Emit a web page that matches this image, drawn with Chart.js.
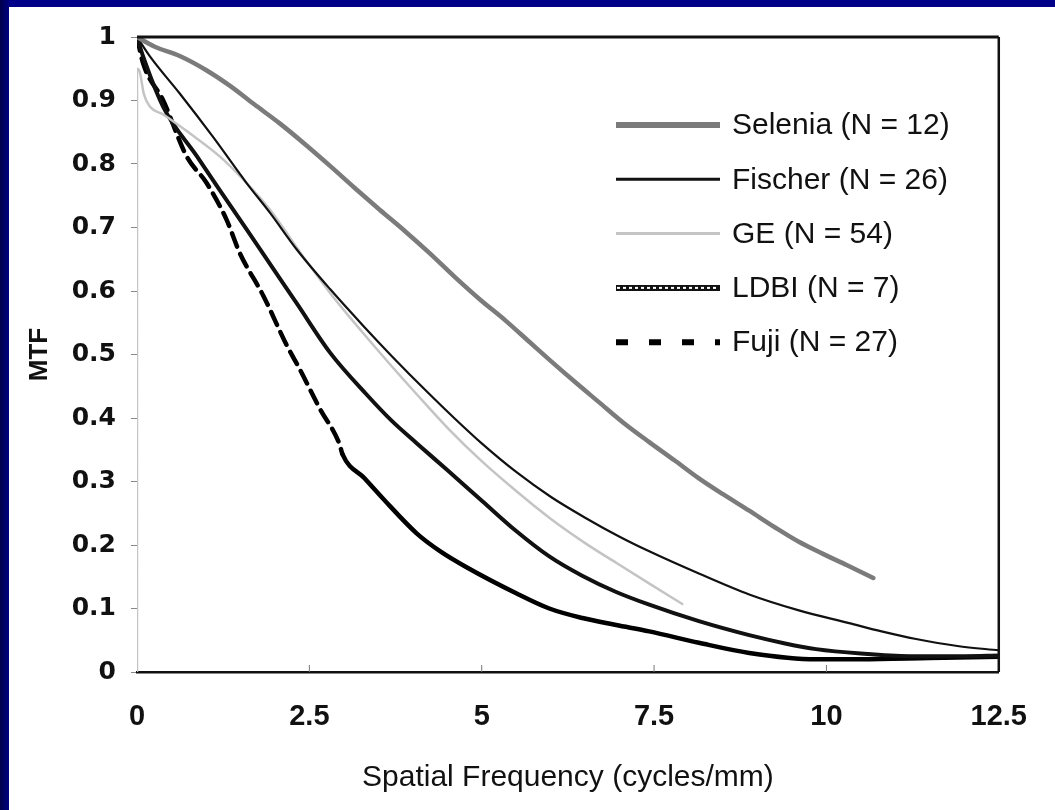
<!DOCTYPE html>
<html>
<head>
<meta charset="utf-8">
<script src="https://cdn.jsdelivr.net/npm/chart.js@4"></script>
<style>
  html, body { margin: 0; padding: 0; }
  body {
    width: 1055px; height: 810px; overflow: hidden; position: relative;
    background: linear-gradient(to right, #00004a 0px, #000088 10px);
  }
  #panel { position: absolute; left: 9px; top: 7px; width: 1046px; height: 803px; background: #fff; }
</style>
</head>
<body>
<div id="panel"><canvas id="mtfChart" width="1046" height="803"></canvas></div>
<script>
// tick labels
var xTicks = [0, 2.5, 5, 7.5, 10, 12.5];
var xTickLabels = ['0', '2.5', '5', '7.5', '10', '12.5'];
var yTicks = [0, 0.1, 0.2, 0.3, 0.4, 0.5, 0.6, 0.7, 0.8, 0.9, 1];
var yTickLabels = ['0', '0.1', '0.2', '0.3', '0.4', '0.5', '0.6', '0.7', '0.8', '0.9', '1'];

// series (spatial frequency in cycles/mm, MTF)
var seriesNames = ['Selenia (N = 12)', 'Fischer (N = 26)', 'GE (N = 54)', 'LDBI (N = 7)', 'Fuji (N = 27)'];

var seleniaFreq = [0, 0.25, 0.62, 1.0, 1.35, 1.7, 2.07, 2.45, 2.8, 3.15, 3.52, 3.9, 4.24, 4.6, 4.97, 5.35, 5.69, 6.0, 6.35, 6.7, 7.05, 7.43, 7.8, 8.15, 8.5, 8.88, 9.25, 9.6, 9.95, 10.3, 10.68];
var seleniaMtf  = [1, 0.985, 0.97, 0.948, 0.923, 0.894, 0.864, 0.83, 0.797, 0.763, 0.728, 0.693, 0.66, 0.623, 0.587, 0.553, 0.52, 0.49, 0.457, 0.425, 0.393, 0.362, 0.333, 0.305, 0.28, 0.254, 0.228, 0.205, 0.186, 0.168, 0.148];

var fischerFreq = [0, 0.19, 0.62, 1.1, 1.59, 1.93, 2.32, 2.8, 3.3, 3.7, 4.2, 4.6, 5.0, 5.5, 6.0, 6.5, 7.0, 7.43, 8.15, 8.88, 9.6, 10.33, 10.8, 11.3, 11.9, 12.5];
var fischerMtf  = [1, 0.969, 0.911, 0.843, 0.77, 0.723, 0.665, 0.603, 0.543, 0.497, 0.442, 0.4, 0.36, 0.315, 0.276, 0.243, 0.213, 0.19, 0.155, 0.122, 0.097, 0.077, 0.064, 0.052, 0.041, 0.034];

var geFreq = [0, 0, 0.04, 0.1, 0.19, 0.38, 0.77, 1.2, 1.59, 1.93, 2.32, 2.8, 3.27, 3.65, 4.06, 4.5, 5.0, 5.5, 5.98, 6.5, 6.95, 7.45, 7.91];
var geMtf  = [0, 0.95, 0.945, 0.91, 0.89, 0.878, 0.848, 0.812, 0.77, 0.728, 0.668, 0.597, 0.535, 0.487, 0.437, 0.385, 0.332, 0.285, 0.243, 0.203, 0.172, 0.138, 0.107];

var ldbiFreq = [0, 0.09, 0.38, 0.87, 1.2, 1.59, 1.97, 2.32, 2.8, 3.33, 3.7, 4.06, 4.5, 5.01, 5.5, 5.98, 6.45, 6.95, 7.43, 8.15, 8.88, 9.4, 9.85, 10.5, 11.2, 12.0, 12.5];
var ldbiMtf  = [1, 0.969, 0.89, 0.812, 0.759, 0.697, 0.636, 0.58, 0.503, 0.437, 0.395, 0.36, 0.318, 0.269, 0.222, 0.182, 0.152, 0.126, 0.106, 0.08, 0.058, 0.045, 0.036, 0.029, 0.025, 0.025, 0.026];

var fujiFreq = [0, 0.09, 0.38, 0.72, 1.01, 1.3, 1.49, 1.83, 2.17, 2.36, 2.65, 2.94, 2.98, 3.3, 3.56, 4.06, 4.4, 4.78, 5.5, 5.98, 6.46, 6.95, 7.43, 8.15, 8.88, 9.85, 10.5, 11.5, 12.5];
var fujiMtf  = [1, 0.958, 0.9, 0.812, 0.77, 0.712, 0.66, 0.593, 0.515, 0.477, 0.415, 0.358, 0.343, 0.305, 0.274, 0.218, 0.19, 0.165, 0.124, 0.1, 0.085, 0.074, 0.064, 0.046, 0.03, 0.02, 0.02, 0.022, 0.024];

function toPoints(xs, ys) {
  return xs.map(function (x, i) { return { x: x, y: ys[i] }; });
}

var FONT = '"Liberation Sans", Arial, sans-serif';

// legend drawn inside the plot area
var insideLegend = {
  id: 'insideLegend',
  afterDatasetsDraw: function (chart) {
    var ctx = chart.ctx;
    var area = chart.chartArea;
    var top = area.top + 88;
    var gap = 54.3;
    var x0 = 607, x1 = 711;
    var row = 0;
    chart.data.datasets.forEach(function (ds) {
      if (ds.overlay) return;
      var y = top + row * gap;
      ctx.save();
      ctx.lineCap = 'butt';
      ctx.strokeStyle = ds.borderColor;
      ctx.lineWidth = ds.legendWidth || ds.borderWidth;
      ctx.setLineDash(ds.legendDash || []);
      ctx.beginPath();
      ctx.moveTo(x0, y);
      ctx.lineTo(x1, y);
      ctx.stroke();
      if (ds.legendTexture) {
        ctx.strokeStyle = '#ffffff';
        ctx.lineWidth = 2;
        ctx.setLineDash([3, 3]);
        ctx.beginPath();
        ctx.moveTo(x0 + 1, y);
        ctx.lineTo(x1 - 1, y);
        ctx.stroke();
      }
      ctx.setLineDash([]);
      ctx.fillStyle = '#111';
      ctx.font = '30px ' + FONT;
      ctx.textBaseline = 'middle';
      ctx.textAlign = 'left';
      ctx.fillText(ds.label, x1 + 12, y + 1);
      ctx.restore();
      row++;
    });
  }
};

// top/right frame and small inner x ticks
var frame = {
  id: 'frame',
  afterDraw: function (chart) {
    var ctx = chart.ctx;
    var a = chart.chartArea;
    var xs = chart.scales.x;
    ctx.save();
    ctx.strokeStyle = '#111';
    ctx.lineWidth = 3;
    ctx.beginPath();
    ctx.moveTo(a.left, a.top);
    ctx.lineTo(a.right, a.top);
    ctx.stroke();
    ctx.lineWidth = 2.5;
    ctx.beginPath();
    ctx.moveTo(a.right, a.top);
    ctx.lineTo(a.right, a.bottom);
    ctx.stroke();
    ctx.strokeStyle = '#777';
    ctx.lineWidth = 1;
    xTicks.forEach(function (v) {
      if (v === 0 || v === 12.5) return;
      var px = xs.getPixelForValue(v);
      ctx.beginPath();
      ctx.moveTo(px, a.bottom);
      ctx.lineTo(px, a.bottom - 7);
      ctx.stroke();
    });
    ctx.restore();
  }
};

var mtfChart = new Chart(document.getElementById('mtfChart').getContext('2d'), {
  type: 'line',
  data: {
    datasets: [
      {
        label: seriesNames[0],
        data: toPoints(seleniaFreq, seleniaMtf),
        borderColor: '#7b7b7b',
        borderWidth: 4.5,
        legendWidth: 6
      },
      {
        label: seriesNames[1],
        data: toPoints(fischerFreq, fischerMtf),
        borderColor: '#111111',
        borderWidth: 2.2,
        legendWidth: 3
      },
      {
        label: seriesNames[2],
        data: toPoints(geFreq, geMtf),
        borderColor: '#c4c4c4',
        borderWidth: 2.5,
        legendWidth: 3
      },
      {
        label: seriesNames[3],
        data: toPoints(ldbiFreq, ldbiMtf),
        borderColor: '#111111',
        borderWidth: 4,
        legendWidth: 6,
        legendTexture: true
      },
      {
        label: 'LDBI texture',
        overlay: true,
        data: toPoints(ldbiFreq, ldbiMtf),
        borderColor: 'rgba(210,210,210,0.85)',
        borderWidth: 1,
        borderDash: [1.5, 4]
      },
      {
        label: seriesNames[4],
        data: toPoints(fujiFreq, fujiMtf),
        borderColor: '#000000',
        borderWidth: 4.5,
        legendWidth: 6,
        legendDash: [12, 21],
        segment: {
          borderDash: function (ctx) {
            return ctx.p0.parsed.y > 0.345 ? [14, 8] : undefined;
          }
        }
      }
    ]
  },
  options: {
    responsive: false,
    animation: false,
    layout: { padding: { left: 0, right: 54, top: 25, bottom: 0 } },
    elements: {
      point: { radius: 0 },
      line: { tension: 0.25, cubicInterpolationMode: 'monotone', borderCapStyle: 'round', borderJoinStyle: 'round' }
    },
    plugins: {
      legend: { display: false },
      tooltip: { enabled: false }
    },
    scales: {
      x: {
        type: 'linear',
        min: 0,
        max: 12.5,
        afterBuildTicks: function (scale) {
          scale.ticks = xTicks.map(function (v) { return { value: v }; });
        },
        afterFit: function (scale) { scale.height = 138; },
        grid: { drawOnChartArea: false, drawTicks: false },
        border: { display: true, color: '#111', width: 2.5 },
        ticks: {
          padding: 28,
          color: '#111',
          font: { family: FONT, size: 29, weight: 'bold' },
          maxRotation: 0,
          callback: function (v) { return xTickLabels[xTicks.indexOf(v)]; }
        },
        title: {
          display: true,
          text: 'Spatial Frequency (cycles/mm)',
          color: '#111',
          font: { family: FONT, size: 30 },
          padding: { top: 0, bottom: 14 }
        }
      },
      y: {
        type: 'linear',
        min: 0,
        max: 1,
        afterBuildTicks: function (scale) {
          scale.ticks = yTicks.map(function (v) { return { value: v }; });
        },
        afterFit: function (scale) { scale.width = 128; },
        grid: { drawOnChartArea: false, drawTicks: true, tickLength: 6, color: '#888' },
        border: { display: false },
        ticks: {
          padding: 15,
          color: '#111',
          font: { family: '"DejaVu Sans", sans-serif', size: 25, weight: 'bold' },
          callback: function (v) { return yTickLabels[yTicks.indexOf(v)]; }
        },
        title: {
          display: true,
          text: 'MTF',
          color: '#111',
          font: { family: FONT, size: 26, weight: 'bold' },
          padding: { top: 15, bottom: 0 }
        }
      }
    }
  },
  plugins: [insideLegend, frame]
});
</script>
</body>
</html>
